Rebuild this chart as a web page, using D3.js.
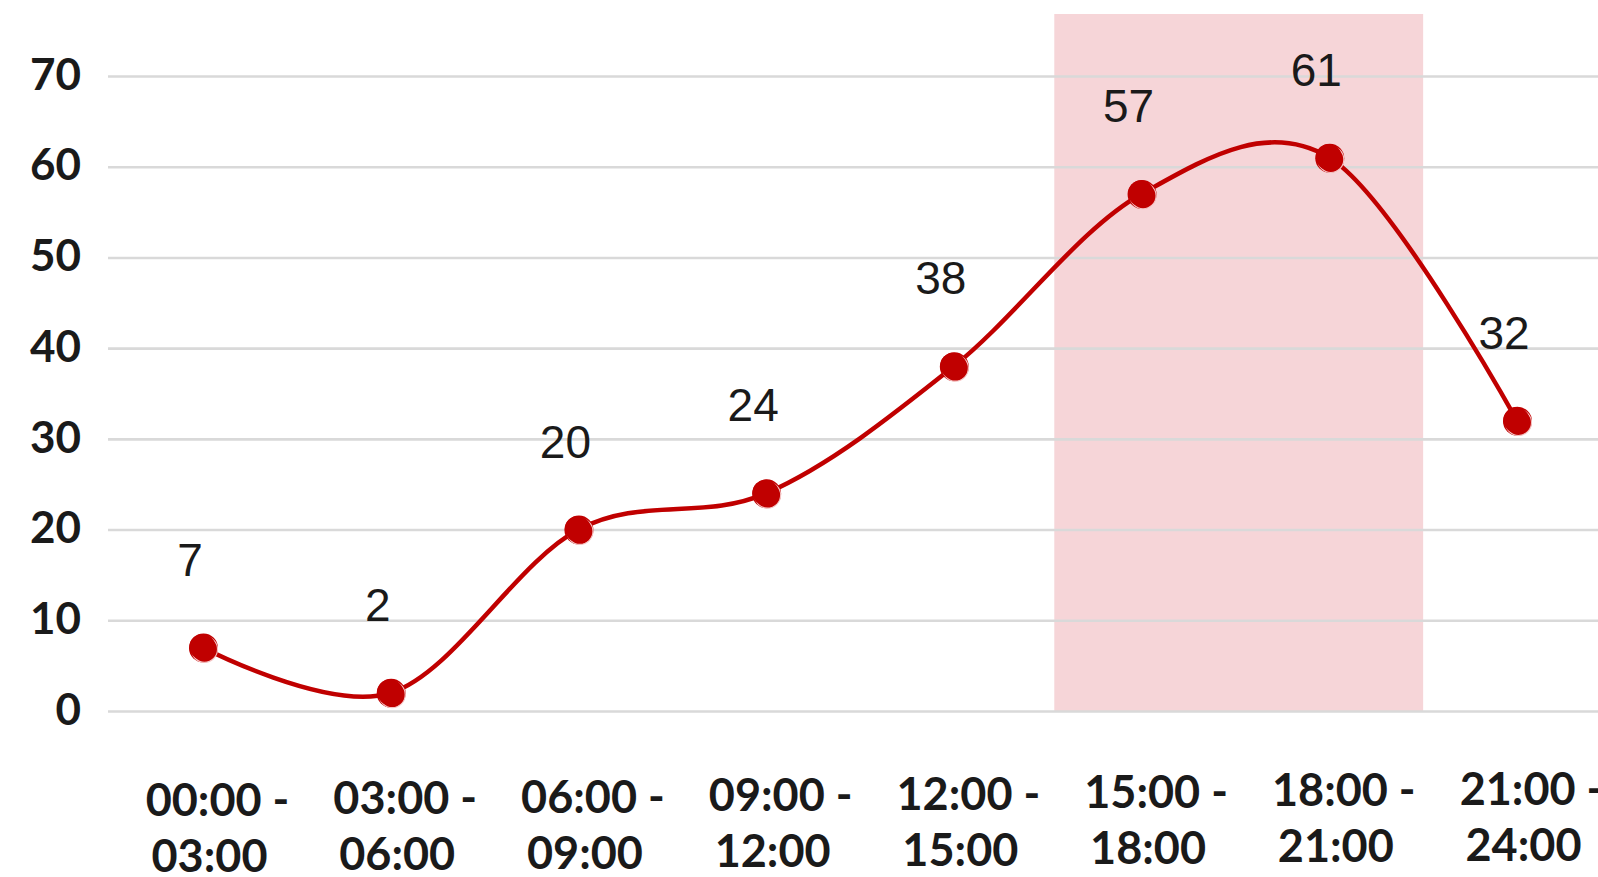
<!DOCTYPE html>
<html>
<head>
<meta charset="utf-8">
<script src="https://cdn.jsdelivr.net/npm/d3@7"></script>
<style>
  body { margin: 0; background: #fff; }
</style>
</head>
<body>
<div id="chart"></div>
<script>
// data
const categories = [
  "00:00 - 03:00", "03:00 - 06:00", "06:00 - 09:00", "09:00 - 12:00",
  "12:00 - 15:00", "15:00 - 18:00", "18:00 - 21:00", "21:00 - 24:00"
];
const values = [7, 2, 20, 24, 38, 57, 61, 32];
const yTicks = [0, 10, 20, 30, 40, 50, 60, 70];
const highlighted = ["15:00 - 18:00", "18:00 - 21:00"];

function drawChart() {
  const dimensions = {
    width: 1598,
    height: 877,
    gridLeft: 108,
    yTop: 76,
    yBottom: 711,
    firstX: 203,
    lastX: 1517,
  };

  const red = "#C00000";

  const svg = d3.select("#chart")
    .append("svg")
      .attr("width", dimensions.width)
      .attr("height", dimensions.height);

  // scales
  const xScale = d3.scalePoint()
    .domain(categories)
    .range([dimensions.firstX, dimensions.lastX]);

  const yScale = d3.scaleLinear()
    .domain([0, 70])
    .range([dimensions.yBottom, dimensions.yTop]);

  const step = xScale.step();

  // highlight band behind everything
  const hx0 = xScale(highlighted[0]) - step * 0.465;
  const hx1 = xScale(highlighted[highlighted.length - 1]) + step * 0.5;
  svg.append("rect")
    .attr("x", hx0)
    .attr("y", 14)
    .attr("width", hx1 - hx0)
    .attr("height", yScale(0) - 14)
    .attr("fill", "#F6D5D8");

  // y axis + gridlines
  const yAxis = d3.axisLeft(yScale)
    .tickValues(yTicks)
    .tickSize(-(dimensions.width - dimensions.gridLeft))
    .tickPadding(27);

  const yAxisG = svg.append("g")
    .attr("transform", `translate(${dimensions.gridLeft},0)`)
    .call(yAxis);
  yAxisG.select(".domain").remove();
  yAxisG.selectAll(".tick line")
    .attr("stroke", "#D9D9D9")
    .attr("stroke-width", 2.6);
  yAxisG.selectAll(".tick text")
    .attr("fill", "#1a1a1a")
    .attr("font-family", "Lato, sans-serif")
    .attr("font-weight", 700)
    .attr("font-size", 44)
    .attr("dy", "0.3em");

  // x axis labels, two lines each
  const xAxis = d3.axisBottom(xScale).tickSize(0).tickFormat("");
  const xAxisG = svg.append("g")
    .call(xAxis);
  xAxisG.select(".domain").remove();
  xAxisG.selectAll(".tick text").remove();

  xAxisG.selectAll(".tick")
    .append("text")
    .attr("font-family", "Lato, sans-serif")
    .attr("font-weight", 700)
    .attr("font-size", 45)
    .attr("fill", "#1a1a1a")
    .attr("text-anchor", "middle")
    .each(function(d, i) {
      const parts = d.split(" - ");
      const base = 816 - i * 1.6;
      const t = d3.select(this);
      t.append("tspan").attr("x", 14).attr("y", base).text(parts[0] + " -");
      t.append("tspan").attr("x", 6).attr("y", base + 56).text(parts[1]);
    });

  // smoothed line
  const line = d3.line()
    .x((d, i) => xScale(categories[i]))
    .y(d => yScale(d))
    .curve(d3.curveCardinal.tension(0));

  svg.append("path")
    .datum(values)
    .attr("d", line)
    .attr("fill", "none")
    .attr("stroke", red)
    .attr("stroke-width", 4.5)
    .attr("stroke-linecap", "round");

  // markers
  const dots = svg.selectAll(".dot")
    .data(values)
    .join("g")
      .attr("class", "dot")
      .attr("transform", (d, i) => `translate(${xScale(categories[i])},${yScale(d)})`);

  dots.append("circle")
    .attr("r", 14.5)
    .attr("cx", 0.5)
    .attr("cy", 0.5)
    .attr("fill", red);
  dots.append("circle")
    .attr("r", 13)
    .attr("cx", 1.5)
    .attr("cy", 1.8)
    .attr("fill", "none")
    .attr("stroke", "#f4c4c4")
    .attr("stroke-width", 1.1);
  dots.append("circle")
    .attr("r", 13)
    .attr("cx", -0.6)
    .attr("cy", -0.6)
    .attr("fill", red);

  // data labels
  svg.selectAll(".value-label")
    .data(values)
    .join("text")
      .attr("class", "value-label")
      .attr("x", (d, i) => xScale(categories[i]) - 13)
      .attr("y", d => yScale(d) - 72)
      .attr("text-anchor", "middle")
      .attr("font-family", "'Liberation Sans', Arial, sans-serif")
      .attr("font-size", 46)
      .attr("fill", "#1a1a1a")
      .text(d => d);
}

drawChart();
</script>
</body>
</html>
